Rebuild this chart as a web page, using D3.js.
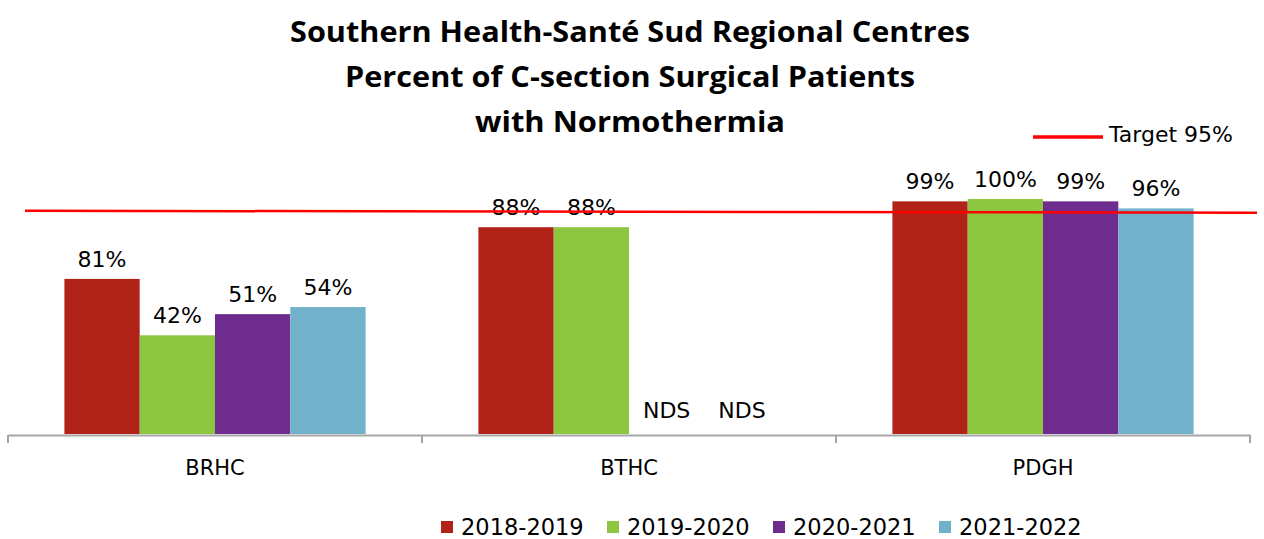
<!DOCTYPE html>
<html>
<head>
<meta charset="utf-8">
<script src="https://cdn.jsdelivr.net/npm/d3@7"></script>
<style>
  body { margin: 0; background: #fff; }
  svg { display: block; }
</style>
</head>
<body>
<script>
// chart data
var centres = ["BRHC", "BTHC", "PDGH"];
var years = ["2018-2019", "2019-2020", "2020-2021", "2021-2022"];
var colors = ["#b12318", "#8dc641", "#6e2d8e", "#71b1ca"];
// bar heights as drawn (percent); null = no data
var brhcValues = [66, 42, 51, 54];
var bthcValues = [88, 88, null, null];
var pdghValues = [99, 100, 99, 96];
// data label text as shown
var brhcLabels = ["81%", "42%", "51%", "54%"];
var bthcLabels = ["88%", "88%", "NDS", "NDS"];
var pdghLabels = ["99%", "100%", "99%", "96%"];
var target = 95;
var titleLines = ["Southern Health-Santé Sud Regional Centres",
                  "Percent of C-section Surgical Patients",
                  "with Normothermia"];

var allValues = [brhcValues, bthcValues, pdghValues];
var allLabels = [brhcLabels, bthcLabels, pdghLabels];

var svgWidth = 1264, svgHeight = 539;
var font = "'DejaVu Sans', sans-serif";

var svg = d3.select("body").append("svg")
  .attr("width", svgWidth)
  .attr("height", svgHeight);

// scales
var x0 = d3.scaleBand().domain(centres).range([8, 1250]).padding(0);
var barW = 75.3;
var x1 = d3.scaleBand().domain(years)
  .range([(x0.bandwidth() - 4 * barW) / 2, (x0.bandwidth() + 4 * barW) / 2]);
var y = d3.scaleLinear().domain([0, 100]).range([434, 199]);

// title
var titleSizes = [680, 570, 310];
svg.append("g").selectAll("text")
  .data(titleLines)
  .enter()
  .append("text")
  .attr("x", 630)
  .attr("y", (d, i) => 42 + i * 45)
  .attr("text-anchor", "middle")
  .attr("font-family", "'Open Sans', sans-serif")
  .attr("font-weight", 700)
  .attr("font-size", 29)
  .attr("fill", "#000")
  .attr("textLength", (d, i) => titleSizes[i])
  .attr("lengthAdjust", "spacingAndGlyphs")
  .text(d => d);

// bars
var rows = centres.map((c, i) => ({
  centre: c,
  items: years.map((yr, j) => ({ year: yr, value: allValues[i][j], label: allLabels[i][j], color: colors[j] }))
}));

var groups = svg.selectAll(".centre")
  .data(rows)
  .enter()
  .append("g")
  .attr("class", "centre")
  .attr("transform", d => `translate(${x0(d.centre)},0)`);

groups.selectAll("rect")
  .data(d => d.items.filter(e => e.value != null))
  .enter()
  .append("rect")
  .attr("x", d => x1(d.year))
  .attr("y", d => y(d.value))
  .attr("width", x1.bandwidth())
  .attr("height", d => y(0) - y(d.value))
  .attr("fill", d => d.color);

groups.selectAll("text.lbl")
  .data(d => d.items)
  .enter()
  .append("text")
  .attr("class", "lbl")
  .attr("x", d => x1(d.year) + x1.bandwidth() / 2)
  .attr("y", d => d.value == null ? y(0) - 16 : y(d.value) - 12)
  .attr("text-anchor", "middle")
  .attr("font-family", font)
  .attr("font-size", 22)
  .attr("fill", "#000")
  .text(d => d.label);

// axis
var bottomAxis = d3.axisBottom(x0).tickSize(0).tickPadding(25);
var axisG = svg.append("g")
  .attr("transform", `translate(0, ${y(0) + 1})`)
  .call(bottomAxis);
axisG.select(".domain").attr("stroke", "#a6a6a6").attr("stroke-width", 2);
axisG.selectAll("text")
  .attr("font-family", font)
  .attr("font-size", 21)
  .attr("fill", "#000");

// category dividers
var edges = centres.map(c => x0(c)).concat([x0.range()[1]]);
axisG.selectAll("line.div")
  .data(edges)
  .enter()
  .append("line")
  .attr("class", "div")
  .attr("x1", d => d).attr("x2", d => d)
  .attr("y1", 0).attr("y2", 8)
  .attr("stroke", "#a6a6a6")
  .attr("stroke-width", 2);

// target line
svg.append("line")
  .attr("x1", 25).attr("x2", 1257)
  .attr("y1", y(target)).attr("y2", y(target) + 2)
  .attr("stroke", "#ff0000")
  .attr("stroke-width", 2.5);

// target legend
svg.append("line")
  .attr("x1", 1033).attr("x2", 1103)
  .attr("y1", 137).attr("y2", 137)
  .attr("stroke", "#ff0000")
  .attr("stroke-width", 3.5);
svg.append("text")
  .attr("x", 1109).attr("y", 142)
  .attr("font-family", font)
  .attr("font-size", 22)
  .attr("fill", "#000")
  .text("Target " + target + "%");

// series legend
var legend = svg.append("g").attr("transform", "translate(441, 0)");
var items = legend.selectAll("g")
  .data(years)
  .enter()
  .append("g")
  .attr("transform", (d, i) => `translate(${i * 166}, 0)`);
items.append("rect")
  .attr("x", 0).attr("y", 521)
  .attr("width", 12).attr("height", 12)
  .attr("fill", (d, i) => colors[i]);
items.append("text")
  .attr("x", 20).attr("y", 535)
  .attr("font-family", font)
  .attr("font-size", 22.5)
  .attr("fill", "#000")
  .text(d => d);
</script>
</body>
</html>
